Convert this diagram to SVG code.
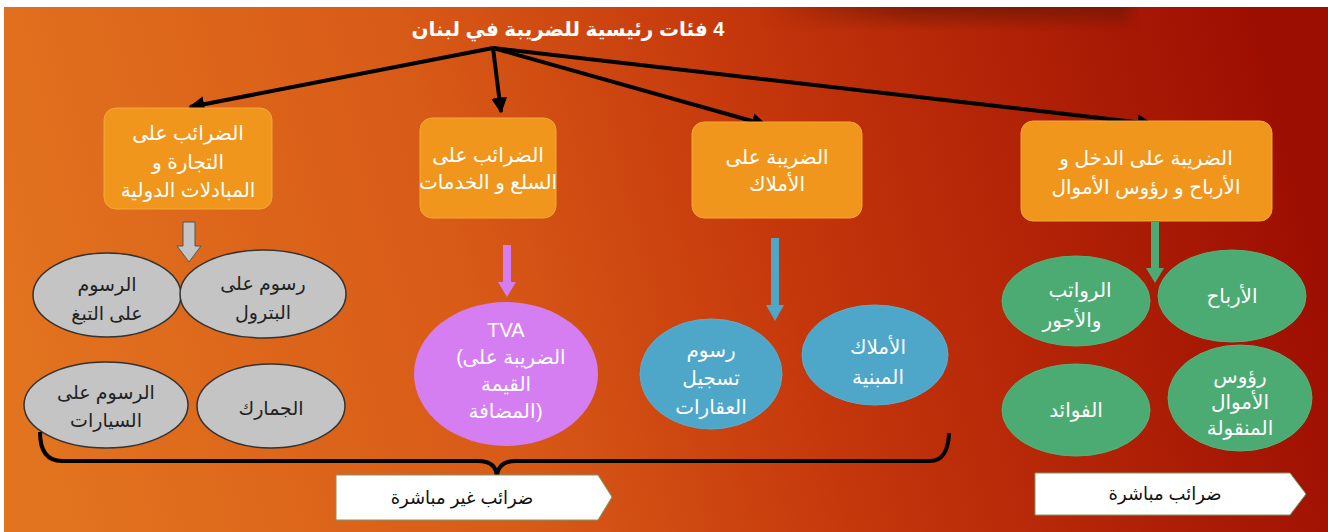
<svg xmlns="http://www.w3.org/2000/svg" width="1328" height="532" viewBox="0 0 1328 532">
<defs>
<linearGradient id="bg" x1="0" y1="0.55" x2="1" y2="0.45">
<stop offset="0" stop-color="#e2731f"/>
<stop offset="0.35" stop-color="#d85a17"/>
<stop offset="0.6" stop-color="#c4360b"/>
<stop offset="1" stop-color="#9c0d02"/>
</linearGradient>
<linearGradient id="band" x1="0" y1="0" x2="0" y2="1">
<stop offset="0" stop-color="#6a1805" stop-opacity="0.7"/>
<stop offset="1" stop-color="#6a1805" stop-opacity="0"/>
</linearGradient>
<linearGradient id="bandx" x1="0" y1="0" x2="1" y2="0">
<stop offset="0" stop-color="#fff" stop-opacity="0"/>
<stop offset="0.4" stop-color="#fff" stop-opacity="1"/>
<stop offset="0.95" stop-color="#fff" stop-opacity="1"/>
<stop offset="1" stop-color="#fff" stop-opacity="0"/>
</linearGradient>
<mask id="bandmask"><rect x="760" y="7" width="380" height="24" fill="url(#bandx)"/></mask>
<marker id="ah" viewBox="0 0 10 10" refX="9" refY="5" markerWidth="4" markerHeight="4" orient="auto" markerUnits="strokeWidth">
<path d="M0,0 L10,5 L0,10 z" fill="#000"/>
</marker>
<style>
.t{font-family:"Liberation Sans","DejaVu Sans",Arial,sans-serif;text-anchor:middle}
.w{fill:#fff;font-size:20px}
.d{fill:#222;font-size:19px}
.box{fill:#f0961c;stroke:#f5a83a;stroke-width:1}
.gray{fill:#c4c4c4;stroke:#333;stroke-width:1.5}
.blue{fill:#4ea6c9;stroke:#5aaed0;stroke-width:1}
.green{fill:#4cab72;stroke:#55b27a;stroke-width:1}
.pink{fill:#d47ef2}
.conn{stroke:#000;stroke-width:4;fill:none}
.lab{fill:#fff;stroke:#7a9a6a;stroke-width:1}
</style>
</defs>
<rect x="0" y="0" width="1328" height="532" fill="#fff"/>
<rect x="4" y="7" width="1324" height="525" fill="url(#bg)"/>
<rect x="760" y="7" width="380" height="24" fill="url(#band)" mask="url(#bandmask)"/>

<text class="t" x="568" y="36" direction="rtl" style="font-size:20px;font-weight:bold;fill:#fff">4 فئات رئيسية للضريبة في لبنان</text>

<g id="connectors">
<line class="conn" x1="493" y1="48" x2="190" y2="107" marker-end="url(#ah)"/>
<line class="conn" x1="493" y1="48" x2="501" y2="112" marker-end="url(#ah)"/>
<line class="conn" x1="493" y1="48" x2="766" y2="125" marker-end="url(#ah)"/>
<line class="conn" x1="493" y1="48" x2="1152" y2="124" marker-end="url(#ah)"/>
<path d="M183,222 h12 v24 h6 l-12,16 l-12,-16 h6 z" fill="#c4c4c4" stroke="#555" stroke-width="1"/>
<path d="M503,245 h8 v37 h5 l-9,15 l-9,-15 h5 z" fill="#d47ef2"/>
<path d="M771,238 h8 v67 h5 l-9,16 l-9,-16 h5 z" fill="#4ea6c9"/>
<path d="M1151,222 h8 v46 h5 l-9,15 l-9,-15 h5 z" fill="#4cab72"/>
<path class="conn" d="M40,432 Q40,461 62,461 L478,461 Q497,461 497,478 Q497,461 516,461 L930,461 Q948,461 949,433"/>
</g>

<g id="box-trade">
<rect class="box" x="104" y="108" width="168" height="101" rx="12"/>
<text class="t w" x="188" y="140">الضرائب على</text>
<text class="t w" x="188" y="169">التجارة و</text>
<text class="t w" x="188" y="197">المبادلات الدولية</text>
</g>
<g id="box-goods">
<rect class="box" x="420" y="118" width="136" height="100" rx="12"/>
<text class="t w" x="488" y="162">الضرائب على</text>
<text class="t w" x="488" y="189">السلع و الخدمات</text>
</g>
<g id="box-property">
<rect class="box" x="692" y="122" width="170" height="96" rx="12"/>
<text class="t w" x="777" y="164">الضريبة على</text>
<text class="t w" x="777" y="191">الأملاك</text>
</g>
<g id="box-income">
<rect class="box" x="1021" y="121" width="251" height="100" rx="12"/>
<text class="t w" x="1146" y="165">الضريبة على الدخل و</text>
<text class="t w" x="1146" y="194">الأرباح و رؤوس الأموال</text>
</g>

<g id="e-tobacco">
<ellipse class="gray" cx="107" cy="295" rx="74" ry="42"/>
<text class="t d" x="107" y="291">الرسوم</text>
<text class="t d" x="107" y="320">على التبغ</text>
</g>
<g id="e-petrol">
<ellipse class="gray" cx="263" cy="294" rx="83" ry="44"/>
<text class="t d" x="263" y="290">رسوم على</text>
<text class="t d" x="263" y="319">البترول</text>
</g>
<g id="e-cars">
<ellipse class="gray" cx="106" cy="405" rx="82" ry="43"/>
<text class="t d" x="106" y="399">الرسوم على</text>
<text class="t d" x="106" y="427">السيارات</text>
</g>
<g id="e-customs">
<ellipse class="gray" cx="271" cy="406" rx="74" ry="42"/>
<text class="t d" x="271" y="415">الجمارك</text>
</g>

<g id="e-tva">
<ellipse class="pink" cx="506" cy="374" rx="92" ry="72"/>
<text class="t w" x="506" y="337">TVA</text>
<text class="t w" x="463" y="364" direction="ltr" style="text-anchor:end">(</text>
<text class="t w" x="514" y="364">الضريبة على</text>
<text class="t w" x="506" y="391">القيمة</text>
<text class="t w" x="502" y="418">المضافة</text>
<text class="t w" x="536" y="418" direction="ltr" style="text-anchor:start">)</text>
</g>

<g id="e-registration">
<ellipse class="blue" cx="711" cy="374" rx="71" ry="55"/>
<text class="t w" x="711" y="357">رسوم</text>
<text class="t w" x="711" y="385">تسجيل</text>
<text class="t w" x="711" y="414">العقارات</text>
</g>
<g id="e-built">
<ellipse class="blue" cx="875" cy="355" rx="73" ry="50"/>
<text class="t w" x="878" y="354">الأملاك</text>
<text class="t w" x="878" y="384">المبنية</text>
</g>

<g id="e-salaries">
<ellipse class="green" cx="1076" cy="301" rx="74" ry="45"/>
<text class="t w" x="1080" y="297">الرواتب</text>
<text class="t w" x="1072" y="327">والأجور</text>
</g>
<g id="e-profits">
<ellipse class="green" cx="1232" cy="296" rx="74" ry="46"/>
<text class="t w" x="1232" y="303">الأرباح</text>
</g>
<g id="e-interest">
<ellipse class="green" cx="1076" cy="410" rx="74" ry="46"/>
<text class="t w" x="1076" y="417">الفوائد</text>
</g>
<g id="e-capital">
<ellipse class="green" cx="1240" cy="398" rx="72" ry="53"/>
<text class="t w" x="1240" y="383">رؤوس</text>
<text class="t w" x="1240" y="409">الأموال</text>
<text class="t w" x="1240" y="435">المنقولة</text>
</g>

<g id="label-indirect">
<polygon class="lab" points="336,475 598,475 612,497 598,520 336,520"/>
<text class="t" x="462" y="504" style="font-size:18px;fill:#111">ضرائب غير مباشرة</text>
</g>
<g id="label-direct">
<polygon class="lab" points="1035,473 1290,473 1306,494 1290,515 1035,515"/>
<text class="t" x="1165" y="500" style="font-size:18px;fill:#111">ضرائب مباشرة</text>
</g>
</svg>
